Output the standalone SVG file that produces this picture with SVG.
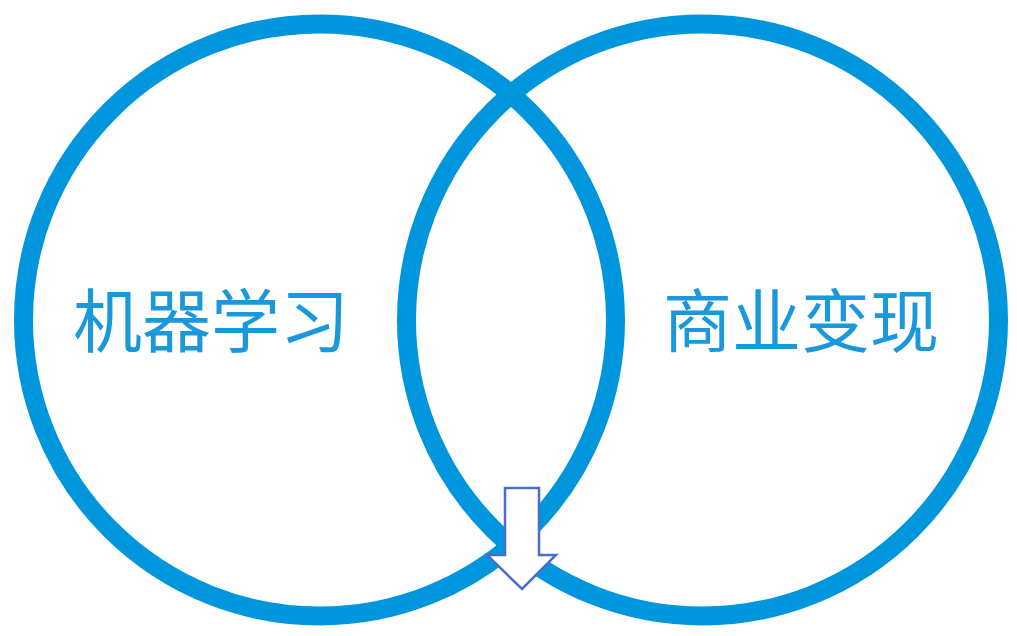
<svg xmlns="http://www.w3.org/2000/svg" width="1017" height="636" viewBox="0 0 1017 636">
  <style>
    .ring { fill: none; stroke: #0096DE; stroke-width: 19; }
    .label { font-family: "Noto Sans CJK SC", "Noto Sans", sans-serif; font-size: 69px; fill: #1A98DC; text-anchor: middle; }
    .blockarrow { fill: #FFFFFF; stroke: #4A6FCB; stroke-width: 2.5; stroke-linejoin: miter; }
  </style>
  <rect width="1017" height="636" fill="#FFFFFF"/>
  <g id="node-ml">
    <circle class="ring" cx="319.5" cy="320" r="296"/>
    <text class="label" x="211" y="347">机器学习</text>
  </g>
  <g id="node-biz">
    <circle class="ring" cx="702.5" cy="320" r="296"/>
    <text class="label" x="801" y="347">商业变现</text>
  </g>
  <g id="connectors">
    <polygon class="blockarrow" points="505,488 539,488 539,555 556,555 522,589 487,555 505,555"/>
  </g>
</svg>
